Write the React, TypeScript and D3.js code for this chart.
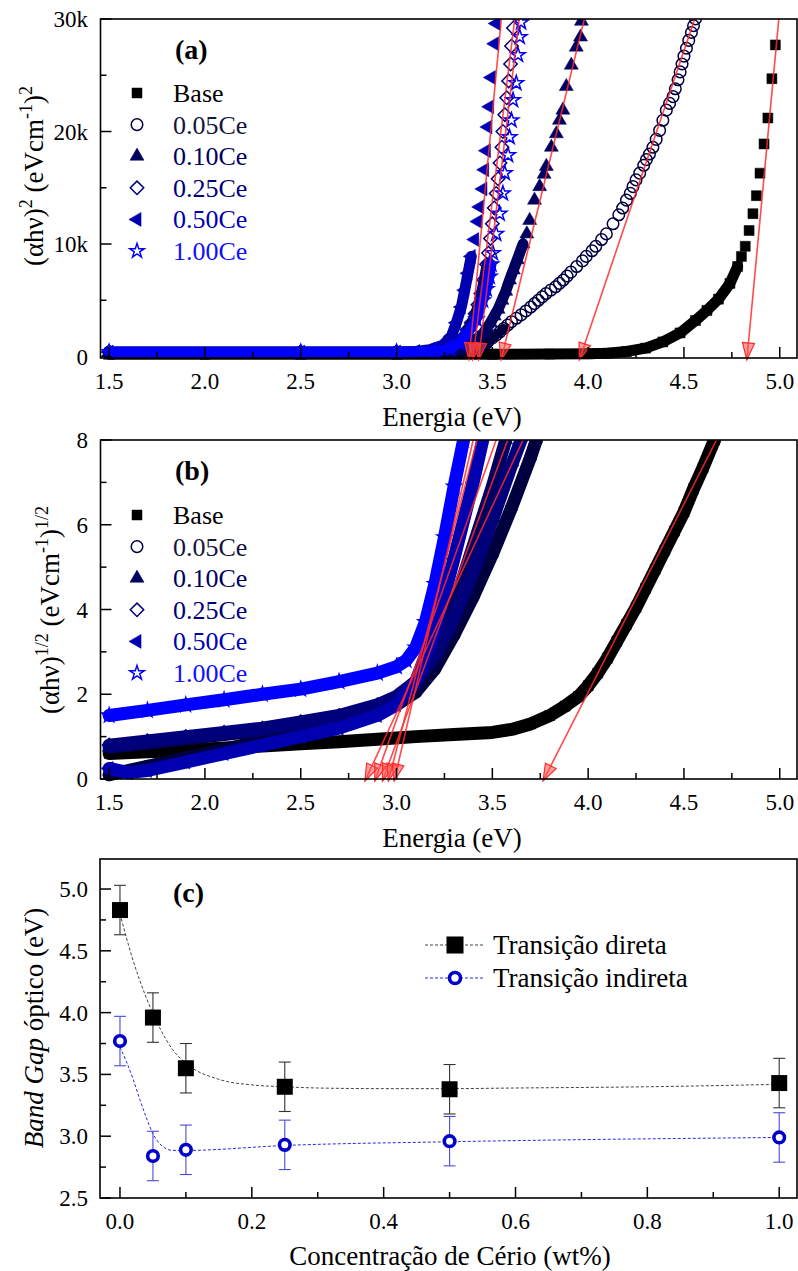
import React from 'react';
import * as d3 from 'd3';

type Pt = [number, number];

// ---------------- DATA ----------------
const sampleNames = ['Base', '0.05Ce', '0.10Ce', '0.25Ce', '0.50Ce', '1.00Ce'];
const ceriumWt = [0, 0.05, 0.1, 0.25, 0.5, 1.0];
const gapDirect = [4.83, 3.96, 3.55, 3.4, 3.38, 3.43];
const gapIndirect = [3.77, 2.84, 2.89, 2.93, 2.96, 2.99];
const errDirect = [0.2, 0.2, 0.2, 0.2, 0.2, 0.2];
const errIndirect = [0.2, 0.2, 0.2, 0.2, 0.2, 0.2];

// dashed fit curves
const fitDirectX = [0, 0.02, 0.04, 0.06, 0.08, 0.1, 0.15, 0.2, 0.25, 0.3, 0.4, 0.5, 0.6, 0.8, 1.0];
const fitDirectY = [4.8, 4.42, 4.12, 3.88, 3.7, 3.59, 3.46, 3.415, 3.4, 3.39, 3.385, 3.385, 3.39, 3.4, 3.42];
const fitIndirectX = [0, 0.01, 0.02, 0.03, 0.04, 0.05, 0.06, 0.08, 0.1, 0.25, 0.5, 1.0];
const fitIndirectY = [3.72, 3.6, 3.46, 3.3, 3.15, 3.02, 2.94, 2.885, 2.885, 2.925, 2.955, 2.99];

// panel (a): (alpha h nu)^2 vs energy, [eV, value]
const directBase: Pt[] = [
  [1.5, 200], [2.0, 200], [2.5, 200], [3.0, 200], [3.5, 200], [3.8, 220], [4.0, 250], [4.1, 300],
  [4.2, 450], [4.3, 750], [4.39, 1300], [4.48, 2100], [4.56, 3200], [4.62, 4100], [4.68, 5100],
  [4.74, 6500], [4.78, 8000], [4.8, 8900], [4.82, 9800], [4.84, 11200], [4.86, 12700], [4.878, 14300],
  [4.897, 16300], [4.918, 18900], [4.938, 21200], [4.959, 24700], [4.977, 27700],
];
const direct005: Pt[] = [
  [1.5, 400], [2.5, 400], [3.0, 400], [3.3, 450], [3.36, 500], [3.4, 600], [3.42, 700], [3.44, 850], [3.45, 1000],
  [3.47, 1200], [3.48, 1400], [3.5, 1650], [3.52, 1900], [3.54, 2200], [3.56, 2500], [3.58, 2800], [3.6, 3100],
  [3.625, 3400], [3.65, 3700], [3.675, 4050], [3.7, 4400], [3.72, 4700], [3.74, 5000], [3.76, 5300], [3.78, 5600],
  [3.805, 5900], [3.83, 6200], [3.85, 6500], [3.87, 6800], [3.89, 7150], [3.91, 7500], [3.94, 8000], [3.97, 8500], [3.99, 8900], [4.02, 9400],
  [4.04, 9800], [4.07, 10400], [4.095, 10900], [4.13, 11800], [4.16, 12600], [4.18, 13200], [4.2, 13900],
  [4.22, 14500], [4.234, 15100], [4.25, 15700], [4.269, 16300], [4.29, 17000], [4.304, 17500],
  [4.32, 18000], [4.338, 18600], [4.355, 19300], [4.373, 20100], [4.39, 21000], [4.408, 21900],
  [4.425, 22500], [4.443, 23100], [4.455, 23800], [4.469, 24600], [4.48, 25300], [4.49, 26000],
  [4.5, 26700], [4.513, 27400], [4.525, 28100], [4.539, 28800], [4.55, 29400], [4.56, 30000],
];
const direct010: Pt[] = [
  [1.5, 400], [2.5, 400], [3.0, 400], [3.25, 450], [3.3, 550], [3.34, 750], [3.37, 1000], [3.4, 1300],
  [3.42, 1600], [3.45, 2000], [3.47, 2500], [3.49, 3000], [3.51, 3600], [3.53, 4200], [3.55, 5000],
  [3.57, 5800], [3.59, 6800], [3.61, 7700], [3.63, 8600], [3.66, 10000], [3.68, 10900], [3.695, 12100],
  [3.72, 13900], [3.747, 15100], [3.77, 16200], [3.782, 16900], [3.808, 18600], [3.834, 19800],
  [3.85, 21000], [3.868, 21900], [3.886, 24000], [3.912, 25900], [3.938, 27500], [3.96, 28400], [3.965, 29800],
];
const direct025: Pt[] = [
  [1.5, 400], [2.5, 400], [3.0, 400], [3.2, 420], [3.26, 500], [3.3, 800], [3.33, 1300], [3.35, 1800],
  [3.37, 2400], [3.39, 3000], [3.41, 3800], [3.425, 4600], [3.44, 5600], [3.455, 6800], [3.47, 8200],
  [3.48, 9200], [3.49, 10500], [3.5, 11800], [3.51, 13200], [3.52, 14500], [3.53, 15800], [3.54, 17200],
  [3.55, 18600], [3.555, 20000], [3.565, 21500], [3.575, 23000], [3.585, 24500], [3.595, 26000],
  [3.6, 27600], [3.61, 29200],
];
const direct050: Pt[] = [
  [1.5, 400], [2.5, 400], [3.0, 400], [3.1, 450], [3.173, 600], [3.242, 1000], [3.286, 1800],
  [3.312, 3000], [3.338, 4400], [3.356, 5900], [3.373, 7400], [3.39, 8900], [3.408, 10400],
  [3.425, 12000], [3.434, 13300], [3.451, 14900], [3.46, 16600], [3.469, 18300], [3.477, 20400],
  [3.486, 22200], [3.495, 24800], [3.512, 27800], [3.52, 29600],
];
const direct100: Pt[] = [
  [1.5, 400], [2.5, 400], [3.0, 400], [3.2, 450], [3.28, 700], [3.33, 1200], [3.373, 2100],
  [3.417, 3300], [3.451, 5000], [3.47, 6000], [3.486, 7100], [3.495, 8200], [3.503, 9200], [3.52, 10900],
  [3.538, 12700], [3.555, 14500], [3.565, 16300], [3.582, 17900], [3.59, 19500], [3.6, 21000],
  [3.608, 22800], [3.625, 24300], [3.634, 26800], [3.643, 28400], [3.65, 29700],
];
const directSeries = [directBase, direct005, direct010, direct025, direct050, direct100];
const directFitTopE = [4.995, 4.556, 3.98, 3.617, 3.547, 3.64];
const directFitTopValue = 30000;

// panel (b): (alpha h nu)^(1/2) vs energy
const indirectBase: Pt[] = [
  [1.5, 0.6], [1.7, 0.64], [1.9, 0.68], [2.1, 0.73], [2.3, 0.78], [2.5, 0.83], [2.7, 0.88], [2.9, 0.94],
  [3.1, 1.0], [3.3, 1.05], [3.5, 1.1], [3.6, 1.17], [3.7, 1.3], [3.8, 1.5], [3.88, 1.72], [3.95, 1.95],
  [4.0, 2.2], [4.05, 2.5], [4.1, 2.85], [4.15, 3.25], [4.2, 3.65], [4.25, 4.05], [4.3, 4.5], [4.35, 4.95],
  [4.4, 5.4], [4.45, 5.85], [4.5, 6.3], [4.55, 6.85], [4.6, 7.35], [4.65, 7.9], [4.66, 8.0],
];
const indirect005: Pt[] = [
  [1.5, 0.1], [1.7, 0.3], [1.9, 0.5], [2.1, 0.7], [2.3, 0.9], [2.5, 1.1], [2.7, 1.3], [2.9, 1.55],
  [3.0, 1.75], [3.1, 2.05], [3.2, 2.6], [3.3, 3.4], [3.4, 4.3], [3.5, 5.3], [3.6, 6.4], [3.7, 7.6], [3.73, 8.0],
];
const indirect010: Pt[] = [
  [1.5, 0.75], [1.7, 0.85], [1.9, 0.95], [2.1, 1.05], [2.3, 1.15], [2.5, 1.3], [2.7, 1.45], [2.9, 1.7],
  [3.0, 1.9], [3.1, 2.3], [3.2, 3.0], [3.3, 4.1], [3.4, 5.5], [3.5, 6.9], [3.57, 8.0],
];
const indirect025: Pt[] = [
  [1.5, 0.8], [1.7, 0.9], [1.9, 1.0], [2.1, 1.1], [2.3, 1.2], [2.5, 1.35], [2.7, 1.5], [2.9, 1.75],
  [3.0, 1.95], [3.1, 2.3], [3.2, 2.9], [3.3, 3.8], [3.4, 4.9], [3.5, 6.1], [3.6, 7.4], [3.65, 8.0],
];
const indirect050: Pt[] = [
  [1.5, 0.25], [1.6, 0.15], [1.7, 0.2], [1.9, 0.4], [2.1, 0.6], [2.3, 0.8], [2.5, 1.0], [2.7, 1.2],
  [2.9, 1.5], [3.0, 1.75], [3.1, 2.3], [3.2, 3.5], [3.3, 5.2], [3.4, 7.0], [3.45, 8.0],
];
const indirect100: Pt[] = [
  [1.5, 1.5], [1.7, 1.62], [1.9, 1.75], [2.1, 1.87], [2.3, 2.0], [2.5, 2.12], [2.7, 2.3], [2.9, 2.5],
  [3.0, 2.65], [3.05, 2.8], [3.1, 3.1], [3.15, 3.7], [3.2, 4.6], [3.25, 5.7], [3.3, 6.9], [3.35, 8.0],
];
const indirectSeries = [indirectBase, indirect005, indirect010, indirect025, indirect050, indirect100];
const indirectFitTopE = [4.67, 3.66, 3.52, 3.58, 3.42, 3.4];
const indirectFitTopValue = 8;

// ticks
const energyTicks = [1.5, 2.0, 2.5, 3.0, 3.5, 4.0, 4.5, 5.0];
const energyMinor = [1.75, 2.25, 2.75, 3.25, 3.75, 4.25, 4.75];
const directTicks = [0, 10000, 20000, 30000];
const directTickLabels = ['0', '10k', '20k', '30k'];
const directMinor = [5000, 15000, 25000];
const indirectTicks = [0, 2, 4, 6, 8];
const indirectMinor = [1, 3, 5, 7];
const gapTicks = [2.5, 3.0, 3.5, 4.0, 4.5, 5.0];
const gapMinor = [2.75, 3.25, 3.75, 4.25, 4.75];
const concTicks = [0, 0.2, 0.4, 0.6, 0.8, 1.0];
const concMinor = [0.1, 0.3, 0.5, 0.7, 0.9];

// ---------------- STYLE ----------------
const FF = 'Liberation Serif';
const TS: React.CSSProperties = { fontFamily: "'Liberation Serif'" };
const TSI: React.CSSProperties = { fontFamily: "'Liberation Serif'", fontStyle: 'italic' };
const seriesStyle = [
  { color: '#000000', type: 'square', filled: true },
  { color: '#00003f', type: 'circle', filled: false },
  { color: '#000060', type: 'triangle', filled: true },
  { color: '#00007a', type: 'diamond', filled: false },
  { color: '#0000b0', type: 'left', filled: true },
  { color: '#0000ff', type: 'star', filled: false },
];
const legendTextColor = ['#000000', '#14143c', '#000060', '#00007a', '#0000b0', '#1010ff'];
const bandMaxA = [8500, 2500, 10000, 9000, 9000, 9000];
const bandWidthA = [11, 9, 11, 10, 11, 10];
const bandWidthB = [13, 13, 13, 13, 13, 13];

function symPath(type: string): { d: string; rot: number } {
  const gen = d3.symbol();
  switch (type) {
    case 'square': return { d: gen.type(d3.symbolSquare).size(100)() as string, rot: 0 };
    case 'circle': return { d: gen.type(d3.symbolCircle).size(105)() as string, rot: 0 };
    case 'triangle': return { d: gen.type(d3.symbolTriangle).size(85)() as string, rot: 0 };
    case 'diamond': return { d: gen.type(d3.symbolSquare).size(90)() as string, rot: 45 };
    case 'left': return { d: gen.type(d3.symbolTriangle).size(85)() as string, rot: -90 };
    default: return { d: gen.type(d3.symbolStar).size(65)() as string, rot: 0 };
  }
}

function Marker({ x, y, idx }: { x: number; y: number; idx: number }) {
  const st = seriesStyle[idx];
  const s = symPath(st.type);
  return (
    <path
      d={s.d}
      transform={`translate(${x},${y}) rotate(${s.rot})`}
      fill={st.filled ? st.color : 'none'}
      stroke={st.color}
      strokeWidth={st.filled ? 0.5 : 1.5}
    />
  );
}

type Box = { l: number; r: number; t: number; b: number };

function Frame({ box }: { box: Box }) {
  return <rect x={box.l} y={box.t} width={box.r - box.l} height={box.b - box.t} fill="none" stroke="#000" strokeWidth={1.6} />;
}

function XAxis({ box, scale, majors, minors, labels }: { box: Box; scale: d3.ScaleLinear<number, number>; majors: number[]; minors: number[]; labels: string[] }) {
  return (
    <g>
      {majors.map((v) => <line key={'M' + v} x1={scale(v)} x2={scale(v)} y1={box.b} y2={box.b - 11} stroke="#000" strokeWidth={1.5} />)}
      {minors.map((v) => <line key={'m' + v} x1={scale(v)} x2={scale(v)} y1={box.b} y2={box.b - 6} stroke="#000" strokeWidth={1.5} />)}
      {majors.map((v, i) => (
        <text key={'t' + v} x={scale(v)} y={box.b + 31} textAnchor="middle" fontSize={23} fontFamily={FF} style={TS}>{labels[i]}</text>
      ))}
    </g>
  );
}

function YAxis({ box, scale, majors, minors, labels }: { box: Box; scale: d3.ScaleLinear<number, number>; majors: number[]; minors: number[]; labels: string[] }) {
  return (
    <g>
      {majors.map((v) => <line key={'M' + v} x1={box.l} x2={box.l + 11} y1={scale(v)} y2={scale(v)} stroke="#000" strokeWidth={1.5} />)}
      {minors.map((v) => <line key={'m' + v} x1={box.l} x2={box.l + 6} y1={scale(v)} y2={scale(v)} stroke="#000" strokeWidth={1.5} />)}
      {majors.map((v, i) => (
        <text key={'t' + v} x={88} y={scale(v) + 8} textAnchor="end" fontSize={23} fontFamily={FF} style={TS}>{labels[i]}</text>
      ))}
    </g>
  );
}

function SpectraPanel({ id, box, x, y, series, bandMax, bandWidth, fitTopE, fitTopValue, gaps }: {
  id: string; box: Box; x: d3.ScaleLinear<number, number>; y: d3.ScaleLinear<number, number>;
  series: Pt[][]; bandMax: number[]; bandWidth: number[]; fitTopE: number[]; fitTopValue: number; gaps: number[];
}) {
  const line = d3.line<Pt>().x((d) => x(d[0])).y((d) => y(d[1])).curve(d3.curveLinear);
  const arrowL = 17, arrowW = 12;
  return (
    <g>
      <defs>
        <clipPath id={id}>
          <rect x={box.l} y={box.t} width={box.r - box.l} height={box.b - box.t + 4} />
        </clipPath>
      </defs>
      <g clipPath={`url(#${id})`}>
        {series.map((pts, i) => (
          <g key={i}>
            <path d={line(pts.filter((p) => p[1] <= bandMax[i])) || ''} fill="none" stroke={seriesStyle[i].color}
              strokeWidth={bandWidth[i]} strokeLinejoin="round" strokeLinecap="round" />
            {pts.map((p, j) => <Marker key={j} x={x(p[0])} y={y(p[1])} idx={i} />)}
          </g>
        ))}
        {gaps.map((g, i) => {
          const x1 = x(fitTopE[i]), y1 = y(fitTopValue);
          const x2 = x(g), y2 = y(0);
          const dx = x2 - x1, dy = y2 - y1;
          const len = Math.hypot(dx, dy);
          const ux = dx / len, uy = dy / len;
          const tipX = x2 + ux * ((box.b + 2 - y2) / uy);
          const tipY = box.b + 2;
          const bx = tipX - ux * arrowL, by = tipY - uy * arrowL;
          const nx = -uy, ny = ux;
          const pts = `${tipX},${tipY} ${bx + nx * arrowW / 2},${by + ny * arrowW / 2} ${bx - nx * arrowW / 2},${by - ny * arrowW / 2}`;
          return (
            <g key={'fit' + i}>
              <line x1={x1} y1={y1} x2={tipX} y2={tipY} stroke="#ff2a2a" strokeWidth={1.6} strokeOpacity={0.85} />
              <polygon points={pts} fill="#ff5050" fillOpacity={0.55} stroke="#ff2a2a" strokeWidth={1.2} />
            </g>
          );
        })}
      </g>
    </g>
  );
}

function Legend({ top }: { top: number }) {
  return (
    <g>
      {sampleNames.map((n, i) => (
        <g key={n}>
          <Marker x={137} y={top + i * 31.6} idx={i} />
          <text x={173} y={top + i * 31.6 + 9} fontSize={26} fill={legendTextColor[i]} fontFamily={FF} style={TS}>{n}</text>
        </g>
      ))}
    </g>
  );
}

function Sup({ children, up }: { children: string; up: boolean }) {
  return <tspan dy={up ? -11 : 11} fontSize={up ? 18 : 27} fontFamily={FF} style={TS}>{children}</tspan>;
}

export default function App() {
  const pa: Box = { l: 100.5, r: 797, t: 19, b: 358 };
  const pb: Box = { l: 100.5, r: 797, t: 440, b: 779 };
  const pc: Box = { l: 100, r: 797, t: 859, b: 1198 };
  const xA = d3.scaleLinear().domain([1.455, 5.09]).range([pa.l, pa.r]);
  const xB = d3.scaleLinear().domain([1.455, 5.09]).range([pb.l, pb.r]);
  const yA = d3.scaleLinear().domain([-130, 30000]).range([pa.b, pa.t]);
  const yB = d3.scaleLinear().domain([0, 8]).range([pb.b, pb.t]);
  const xC = d3.scaleLinear().domain([-0.0303, 1.027]).range([pc.l, pc.r]);
  const yC = d3.scaleLinear().domain([2.5, 5.243]).range([pc.b, pc.t]);

  const fitD = d3.line<number>().curve(d3.curveMonotoneX).x((_, i) => xC(fitDirectX[i])).y((v) => yC(v))(fitDirectY) || '';
  const fitI = d3.line<number>().curve(d3.curveMonotoneX).x((_, i) => xC(fitIndirectX[i])).y((v) => yC(v))(fitIndirectY) || '';
  const sq = d3.symbol().type(d3.symbolSquare).size(256)() as string;

  const energyLabels = energyTicks.map((v) => v.toFixed(1));
  return (
    <svg width={798} height={1271} fontFamily={FF} style={{ position: 'absolute', left: 0, top: 0, background: '#fff' }}>
      <rect width={798} height={1271} fill="#fff" />
      {/* Panel (a) */}
      <SpectraPanel id="clipA" box={pa} x={xA} y={yA} series={directSeries} bandMax={bandMaxA} bandWidth={bandWidthA}
        fitTopE={directFitTopE} fitTopValue={directFitTopValue} gaps={gapDirect} />
      <Frame box={pa} />
      <XAxis box={pa} scale={xA} majors={energyTicks} minors={energyMinor} labels={energyLabels} />
      <YAxis box={pa} scale={yA} majors={directTicks} minors={directMinor} labels={directTickLabels} />
      <text x={175} y={59} fontSize={28} fontWeight="bold" fontFamily={FF} style={TS}>(a)</text>
      <Legend top={93} />
      <text x={452} y={426} textAnchor="middle" fontSize={27} fontFamily={FF} style={TS}>Energia (eV)</text>
      <text transform="translate(43,176) rotate(-90)" textAnchor="middle" fontSize={27} fontFamily={FF} style={TS}>
        <tspan fontFamily={FF} style={TS}>(αhν)</tspan><Sup up>2</Sup><Sup up={false}> (eVcm</Sup><Sup up>-1</Sup><Sup up={false}>)</Sup><Sup up>2</Sup>
      </text>

      {/* Panel (b) */}
      <SpectraPanel id="clipB" box={pb} x={xB} y={yB} series={indirectSeries} bandMax={[8, 8, 8, 8, 8, 8]} bandWidth={bandWidthB}
        fitTopE={indirectFitTopE} fitTopValue={indirectFitTopValue} gaps={gapIndirect} />
      <Frame box={pb} />
      <XAxis box={pb} scale={xB} majors={energyTicks} minors={energyMinor} labels={energyLabels} />
      <YAxis box={pb} scale={yB} majors={indirectTicks} minors={indirectMinor} labels={indirectTicks.map(String)} />
      <text x={175} y={480} fontSize={28} fontWeight="bold" fontFamily={FF} style={TS}>(b)</text>
      <Legend top={515} />
      <text x={452} y={847} textAnchor="middle" fontSize={27} fontFamily={FF} style={TS}>Energia (eV)</text>
      <text transform="translate(59,610) rotate(-90)" textAnchor="middle" fontSize={27} fontFamily={FF} style={TS}>
        <tspan fontFamily={FF} style={TS}>(αhν)</tspan><Sup up>1/2</Sup><Sup up={false}> (eVcm</Sup><Sup up>-1</Sup><Sup up={false}>)</Sup><Sup up>1/2</Sup>
      </text>

      {/* Panel (c) */}
      <path d={fitD} fill="none" stroke="#444" strokeWidth={1} strokeDasharray="3,2" />
      <path d={fitI} fill="none" stroke="#2a2ae0" strokeWidth={1} strokeDasharray="3,2" />
      {ceriumWt.map((c, i) => (
        <g key={'eb' + i}>
          <line x1={xC(c)} x2={xC(c)} y1={yC(gapDirect[i] - errDirect[i])} y2={yC(gapDirect[i] + errDirect[i])} stroke="#333" strokeWidth={1.1} />
          <line x1={xC(c) - 6} x2={xC(c) + 6} y1={yC(gapDirect[i] - errDirect[i])} y2={yC(gapDirect[i] - errDirect[i])} stroke="#333" strokeWidth={1.1} />
          <line x1={xC(c) - 6} x2={xC(c) + 6} y1={yC(gapDirect[i] + errDirect[i])} y2={yC(gapDirect[i] + errDirect[i])} stroke="#333" strokeWidth={1.1} />
          <line x1={xC(c)} x2={xC(c)} y1={yC(gapIndirect[i] - errIndirect[i])} y2={yC(gapIndirect[i] + errIndirect[i])} stroke="#4b4bd6" strokeWidth={1.1} />
          <line x1={xC(c) - 6} x2={xC(c) + 6} y1={yC(gapIndirect[i] - errIndirect[i])} y2={yC(gapIndirect[i] - errIndirect[i])} stroke="#4b4bd6" strokeWidth={1.1} />
          <line x1={xC(c) - 6} x2={xC(c) + 6} y1={yC(gapIndirect[i] + errIndirect[i])} y2={yC(gapIndirect[i] + errIndirect[i])} stroke="#4b4bd6" strokeWidth={1.1} />
          <path d={sq} transform={`translate(${xC(c)},${yC(gapDirect[i])})`} fill="#000" />
          <circle cx={xC(c)} cy={yC(gapIndirect[i])} r={5.3} fill="#fff" stroke="#0000cc" strokeWidth={3.6} />
        </g>
      ))}
      <Frame box={pc} />
      <XAxis box={pc} scale={xC} majors={concTicks} minors={concMinor} labels={concTicks.map((v) => v.toFixed(1))} />
      <YAxis box={pc} scale={yC} majors={gapTicks} minors={gapMinor} labels={gapTicks.map((v) => v.toFixed(1))} />
      <text x={173} y={902} fontSize={28} fontWeight="bold" fontFamily={FF} style={TS}>(c)</text>
      <g>
        <line x1={425} x2={485} y1={945} y2={945} stroke="#444" strokeWidth={1} strokeDasharray="3,2" />
        <path d={d3.symbol().type(d3.symbolSquare).size(290)() as string} transform="translate(455,945)" fill="#000" />
        <text x={493} y={954} fontSize={27} fontFamily={FF} style={TS}>Transição direta</text>
        <line x1={425} x2={485} y1={978} y2={978} stroke="#2a2ae0" strokeWidth={1} strokeDasharray="3,2" />
        <circle cx={455} cy={978} r={5.5} fill="#fff" stroke="#0000cc" strokeWidth={3.6} />
        <text x={493} y={987} fontSize={27} fontFamily={FF} style={TS}>Transição indireta</text>
      </g>
      <text x={450} y={1265} textAnchor="middle" fontSize={27} fontFamily={FF} style={TS}>Concentração de Cério (wt%)</text>
      <text transform="translate(43,1028) rotate(-90)" textAnchor="middle" fontSize={27} fontFamily={FF} style={TS}>
        <tspan fontFamily={FF} style={TSI}>Band Gap</tspan><tspan fontFamily={FF} style={TS}> óptico (eV)</tspan>
      </text>
    </svg>
  );
}
